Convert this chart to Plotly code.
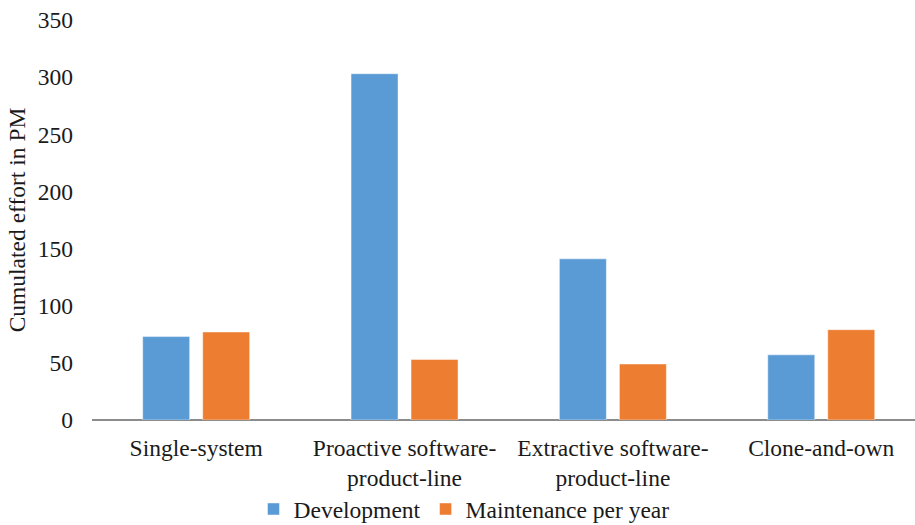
import plotly.graph_objects as go

# Effort per development approach, in person-months
categories = [
    "Single-system",
    "Proactive software-<br>product-line",
    "Extractive software-<br>product-line",
    "Clone-and-own",
]
development = [73, 303, 141, 57]
maintenance_per_year = [77, 53, 49, 79]

y_ticks = [0, 50, 100, 150, 200, 250, 300, 350]

FONT = "Liberation Serif, Times New Roman, serif"
FS = 23.5
TXT = "#1a1a1a"
BLUE = "#5B9BD5"
ORANGE = "#ED7D31"

fig = go.Figure()
fig.add_trace(go.Bar(
    name="Development",
    x=list(range(len(categories))),
    y=development,
    marker=dict(color=BLUE, line=dict(color="rgba(255,255,255,0.45)", width=1)),
))
fig.add_trace(go.Bar(
    name="Maintenance per year",
    x=list(range(len(categories))),
    y=maintenance_per_year,
    marker=dict(color=ORANGE, line=dict(color="rgba(255,255,255,0.45)", width=1)),
))

fig.update_layout(
    width=915,
    height=525,
    margin=dict(l=92, r=0, t=20, b=105, autoexpand=False),
    paper_bgcolor="white",
    plot_bgcolor="white",
    barmode="group",
    bargap=0.424,
    bargroupgap=0.217,
    font=dict(family=FONT, size=FS, color=TXT),
    showlegend=True,
    legend=dict(
        orientation="h",
        x=0.452,
        xanchor="center",
        xref="paper",
        yref="container",
        y=0.072,
        yanchor="top",
        font=dict(family=FONT, size=FS, color=TXT),
        tracegroupgap=0,
        bgcolor="rgba(0,0,0,0)",
    ),
    xaxis=dict(
        tickmode="array",
        tickvals=list(range(len(categories))),
        ticktext=categories,
        range=[-0.5, 3.45],
        showgrid=False,
        zeroline=False,
        showline=False,
        ticks="",
        tickfont=dict(family=FONT, size=FS, color=TXT),
        ticklabelstandoff=11,
    ),
    yaxis=dict(
        range=[0, 350],
        tickmode="array",
        tickvals=y_ticks,
        showgrid=False,
        zeroline=True,
        zerolinecolor="#8c8c8c",
        zerolinewidth=1.5,
        showline=False,
        ticks="",
        ticklabelstandoff=18,
        tickfont=dict(family=FONT, size=FS, color=TXT),
        title=dict(
            text="Cumulated effort in PM",
            font=dict(family=FONT, size=FS, color=TXT),
            standoff=5,
        ),
    ),
)

fig.write_html("out.html")
